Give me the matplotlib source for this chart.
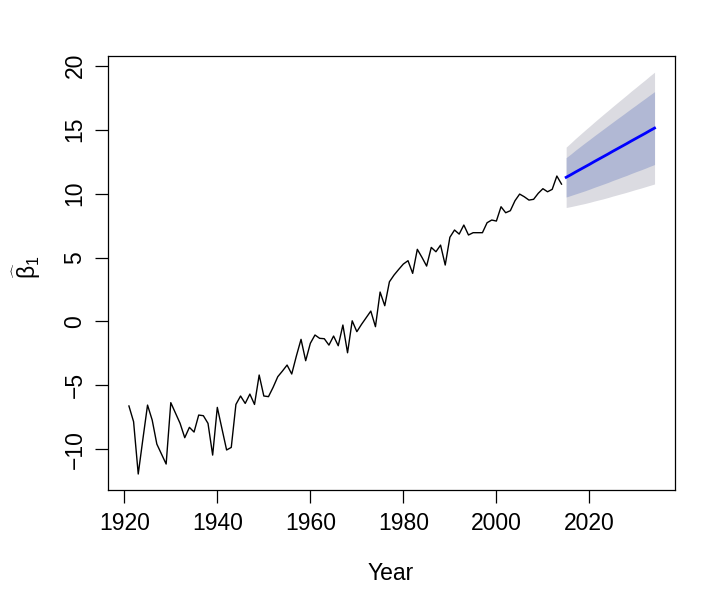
import matplotlib
matplotlib.use("Agg")
import matplotlib.pyplot as plt
import numpy as np

plt.rcParams['font.family'] = ['Liberation Sans', 'DejaVu Sans']
plt.rcParams['mathtext.fontset'] = 'custom'
plt.rcParams['mathtext.rm'] = 'Liberation Sans'
plt.rcParams['mathtext.it'] = 'Liberation Sans'

# observed series, 1921-2014
years = np.arange(1921, 2015)
beta = [-6.61, -7.84, -11.93, -9.20, -6.54, -7.71, -9.59, -10.37, -11.15, -6.35,
        -7.16, -7.97, -9.09, -8.28, -8.65, -7.32, -7.37, -7.97, -10.45, -6.72,
        -8.39, -10.05, -9.85, -6.49, -5.83, -6.41, -5.68, -6.49, -4.19, -5.83,
        -5.88, -5.15, -4.32, -3.88, -3.41, -4.11, -2.70, -1.40, -3.07, -1.71,
        -1.06, -1.32, -1.35, -1.85, -1.14, -1.90, -0.28, -2.45, 0.05, -0.80,
        -0.23, 0.29, 0.81, -0.41, 2.30, 1.23, 3.10, 3.63, 4.07, 4.49,
        4.75, 3.76, 5.64, 5.01, 4.33, 5.79, 5.45, 5.97, 4.41, 6.58,
        7.15, 6.83, 7.54, 6.76, 6.94, 6.94, 6.94, 7.72, 7.93, 7.85,
        8.97, 8.50, 8.66, 9.44, 9.96, 9.75, 9.49, 9.55, 10.02, 10.38,
        10.14, 10.33, 11.37, 10.74]

# forecast, 2015-2034
fc_years = np.arange(2015, 2035)
fc_mean = [11.27, 11.47, 11.68, 11.88, 12.08, 12.28, 12.49, 12.69, 12.89, 13.09,
           13.30, 13.50, 13.70, 13.90, 14.11, 14.31, 14.51, 14.71, 14.92, 15.12]
hi95 = [13.63, 13.96, 14.30, 14.62, 14.94, 15.25, 15.57, 15.88, 16.19, 16.49,
        16.80, 17.10, 17.40, 17.70, 18.01, 18.30, 18.60, 18.89, 19.20, 19.49]
lo95 = [8.91, 8.98, 9.06, 9.14, 9.22, 9.31, 9.41, 9.50, 9.59, 9.69,
        9.80, 9.90, 10.00, 10.10, 10.21, 10.32, 10.42, 10.53, 10.64, 10.75]
hi80 = [12.81, 13.09, 13.39, 13.67, 13.95, 14.22, 14.50, 14.77, 15.04, 15.31,
        15.58, 15.85, 16.11, 16.38, 16.65, 16.91, 17.18, 17.44, 17.71, 17.97]
lo80 = [9.73, 9.85, 9.97, 10.09, 10.21, 10.34, 10.48, 10.61, 10.74, 10.87,
        11.02, 11.15, 11.29, 11.42, 11.57, 11.71, 11.84, 11.98, 12.13, 12.27]

fig = plt.figure(figsize=(7.09, 5.90), dpi=100)
ax = fig.add_axes([108 / 709, 100 / 590, 567 / 709, 434.3 / 590])

ax.fill_between(fc_years, lo95, hi95, color='#DBDBE1', lw=0)
ax.fill_between(fc_years, lo80, hi80, color='#B1B8D4', lw=0)
ax.plot(years, beta, color='black', lw=1.0)
ax.plot(fc_years, fc_mean, color='#0000FF', lw=2.0)

ax.set_xlim(1916.5, 2038.4)
ax.set_ylim(-13.18, 20.78)
ax.set_xticks([1920, 1940, 1960, 1980, 2000, 2020])
ax.set_yticks([-10, -5, 0, 5, 10, 15, 20])
ax.set_yticklabels(['\u221210', '\u22125', '0', '5', '10', '15', '20'],
                   rotation=90, va='center')
ax.tick_params(direction='out', length=9.5, width=0.9, labelsize=16.5, pad=6)
for s in ax.spines.values():
    s.set_linewidth(0.9)

fig.text(391 / 709, 1 - 573 / 590, 'Year', ha='center', va='center', fontsize=16.5)
fig.text(27 / 709, 1 - 267 / 590, r'$\widehat{\beta}_1$', ha='center', va='center',
         rotation=90, fontsize=16.5)

fig.savefig('out.png', dpi=100)
